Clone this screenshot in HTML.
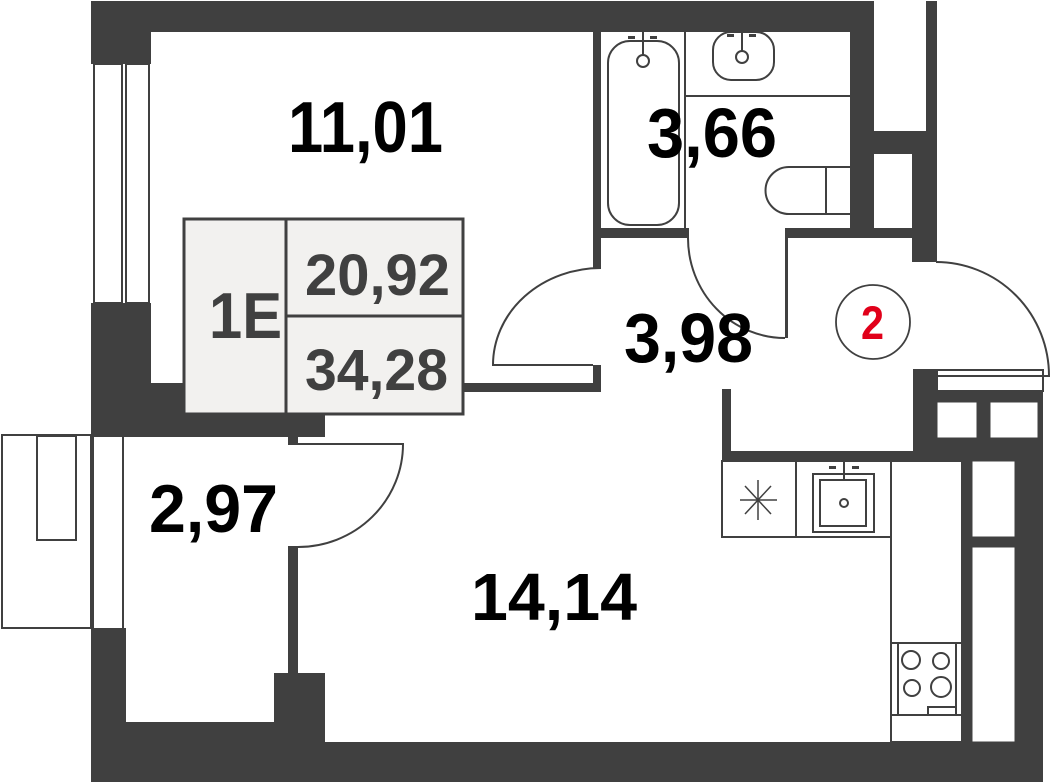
<!DOCTYPE html>
<html><head><meta charset="utf-8"><style>html,body{margin:0;padding:0;background:#fff;}svg{display:block;}</style></head>
<body>
<svg width="1052" height="782" viewBox="0 0 1052 782" xmlns="http://www.w3.org/2000/svg">
<g fill="#404040">
<!-- top wall -->
<rect x="91" y="1" width="783" height="31"/>
<!-- left upper -->
<rect x="91" y="1" width="60" height="63"/>
<rect x="91" y="303" width="60" height="132"/>
<rect x="91" y="383" width="100" height="30"/>
<rect x="91" y="413" width="234" height="24"/>
<rect x="288" y="437" width="10" height="8"/>
<!-- left lower -->
<rect x="91" y="628" width="35" height="154"/>
<rect x="91" y="722" width="234" height="60"/>
<rect x="274" y="673" width="51" height="109"/>
<rect x="288" y="546" width="10" height="130"/>
<rect x="325" y="742" width="718" height="40"/>
<!-- partition to hallway -->
<rect x="463" y="383" width="138" height="9"/>
<rect x="593" y="365" width="8" height="27"/>
<!-- bathroom -->
<rect x="593" y="32" width="8" height="236"/>
<rect x="593" y="228" width="96" height="10"/>
<rect x="785" y="228" width="127" height="10"/>
<rect x="850" y="32" width="24" height="206"/>
<rect x="874" y="131" width="38" height="23"/>
<rect x="912" y="131" width="25" height="131"/>
<rect x="926" y="1" width="11" height="132"/>
<rect x="785" y="238" width="3" height="100"/>
<!-- right side -->
<rect x="722" y="389" width="9" height="72"/>
<rect x="722" y="451" width="192" height="10"/>
<rect x="913" y="369" width="24" height="92"/>
<rect x="937" y="391" width="106" height="11"/>
<rect x="977" y="402" width="13" height="36"/>
<rect x="1038" y="391" width="5" height="70"/>
<rect x="937" y="438" width="106" height="23"/>
<rect x="1015" y="438" width="28" height="344"/>
<rect x="962" y="461" width="10" height="281"/>
<rect x="972" y="537" width="43" height="10"/>
</g>
<g fill="none" stroke="#404040" stroke-width="2">
<!-- left windows -->
<rect x="94" y="64" width="28" height="239"/>
<rect x="126" y="64" width="23" height="239"/>
<rect x="2" y="435" width="89" height="193"/>
<rect x="37" y="436" width="39" height="104"/>
<line x1="93" y1="437" x2="93" y2="628"/>
<line x1="123" y1="437" x2="123" y2="628"/>
<!-- doors -->
<path d="M298 444 L403 444 A105 103 0 0 1 298 547"/>
<path d="M601 268 A108 97 0 0 0 493 365 L593 365"/>
<path d="M688 238 A97 100 0 0 0 785 338"/>
<path d="M936 262 A113 114 0 0 1 1049 376 L936 376"/>
<rect x="937" y="370" width="106" height="21"/>
<!-- bathroom fixtures -->
<rect x="608" y="41" width="71" height="184" rx="22"/>
<line x1="685" y1="32" x2="685" y2="231"/>
<line x1="685" y1="96" x2="850" y2="96"/>
<rect x="713" y="32" width="61" height="48" rx="18"/>
<path d="M850 167 L789 167 A23 23 0 0 0 789 214 L850 214"/>
<line x1="826" y1="167" x2="826" y2="214"/>
<circle cx="643" cy="61" r="6"/>
<line x1="643" y1="32" x2="643" y2="55"/>
<circle cx="742" cy="57" r="6"/>
<line x1="742" y1="32" x2="742" y2="51"/>
<circle cx="873" cy="322" r="37" stroke-width="1.8"/>
<!-- kitchen -->
<rect x="722" y="461" width="169" height="76"/>
<line x1="796" y1="461" x2="796" y2="537"/>
<rect x="891" y="461" width="71" height="281"/>
<rect x="891" y="643" width="71" height="72"/>
<line x1="898" y1="643" x2="898" y2="715"/>
<line x1="956" y1="643" x2="956" y2="715"/>
<rect x="928" y="707" width="28" height="8"/>
<circle cx="911" cy="660" r="9"/>
<circle cx="941" cy="661" r="8"/>
<circle cx="912" cy="688" r="8"/>
<circle cx="941" cy="687" r="10"/>
<rect x="813" y="474" width="61" height="58"/>
<rect x="820" y="480" width="46" height="46"/>
<circle cx="844" cy="503" r="4"/>
<line x1="844" y1="461" x2="844" y2="480"/>
<g stroke-width="1.5">
<line x1="740" y1="500" x2="777" y2="500"/>
<line x1="758" y1="480" x2="758" y2="520"/>
<line x1="745" y1="486" x2="771" y2="514"/>
<line x1="745" y1="514" x2="771" y2="486"/>
</g>
</g>
<g fill="#404040">
<rect x="829" y="466" width="7" height="3"/><rect x="852" y="466" width="7" height="3"/>
<rect x="628" y="36" width="7" height="3"/><rect x="650" y="36" width="7" height="3"/>
<rect x="727" y="34" width="7" height="3"/><rect x="749" y="34" width="7" height="3"/>
</g>
<!-- windows right -->
<g fill="#fff" stroke="#404040" stroke-width="1">
<rect x="937" y="402" width="40" height="36"/>
<rect x="990" y="402" width="48" height="36"/>
<rect x="972" y="461" width="43" height="76"/>
<rect x="972" y="547" width="43" height="195"/>
</g>
<!-- info box -->
<rect x="184" y="219" width="279" height="195" fill="#f2f1ef" stroke="#404040" stroke-width="3"/>
<line x1="286" y1="219" x2="286" y2="414" stroke="#404040" stroke-width="3"/>
<line x1="286" y1="316" x2="463" y2="316" stroke="#404040" stroke-width="3"/>
<g font-family="Liberation Sans, Arial, sans-serif" font-weight="bold">
<text x="209" y="338" font-size="65" fill="#404040" textLength="73" lengthAdjust="spacingAndGlyphs">1E</text>
<text x="305" y="295" font-size="58" fill="#404040" textLength="145" lengthAdjust="spacingAndGlyphs">20,92</text>
<text x="305" y="390" font-size="58" fill="#404040" textLength="143" lengthAdjust="spacingAndGlyphs">34,28</text>
<text x="288" y="152" font-size="72" fill="#000" textLength="155" lengthAdjust="spacingAndGlyphs">11,01</text>
<text x="647" y="157" font-size="70" fill="#000" textLength="130" lengthAdjust="spacingAndGlyphs">3,66</text>
<text x="624" y="362" font-size="70" fill="#000" textLength="129" lengthAdjust="spacingAndGlyphs">3,98</text>
<text x="149" y="532" font-size="68" fill="#000" textLength="129" lengthAdjust="spacingAndGlyphs">2,97</text>
<text x="471" y="620" font-size="67" fill="#000" textLength="166" lengthAdjust="spacingAndGlyphs">14,14</text>
<text x="861" y="339" font-size="47" fill="#e1001a" textLength="23" lengthAdjust="spacingAndGlyphs">2</text>
</g>
</svg>
</body></html>
